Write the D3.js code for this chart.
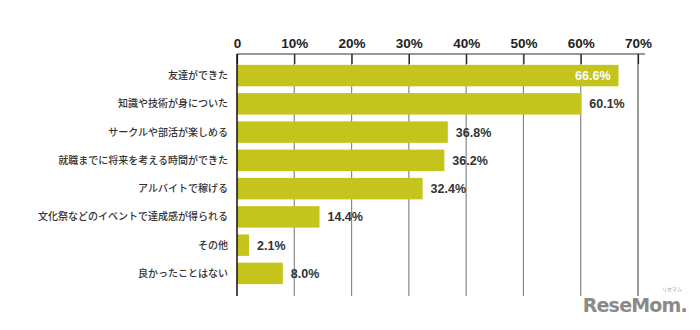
<!DOCTYPE html>
<html>
<head>
<meta charset="utf-8">
<script src="https://cdn.jsdelivr.net/npm/d3@7"></script>
<style>
  body { margin: 0; background: #fff; }
  svg { display: block; }
</style>
</head>
<body>
<div id="chart"></div>
<script>
  const categories = [
    '友達ができた',
    '知識や技術が身についた',
    'サークルや部活が楽しめる',
    '就職までに将来を考える時間ができた',
    'アルバイトで稼げる',
    '文化祭などのイベントで達成感が得られる',
    'その他',
    '良かったことはない'
  ];
  const values = [66.6, 60.1, 36.8, 36.2, 32.4, 14.4, 2.1, 8.0];
  const tickValues = [0, 10, 20, 30, 40, 50, 60, 70];

  const width = 700;
  const height = 330;
  const margin = { top: 54, left: 237, right: 62, bottom: 34 };

  const svg = d3.select('#chart').append('svg')
    .attr('width', width)
    .attr('height', height);

  const x = d3.scaleLinear().domain([0, 70]).range([margin.left, 638]);
  const y = d3.scaleBand().domain(categories).range([62, 287]).paddingInner(0.24).paddingOuter(0.1);

  // grid lines
  svg.append('g').selectAll('line')
    .data(tickValues.filter(d => d > 0))
    .enter().append('line')
    .attr('x1', d => x(d)).attr('x2', d => x(d))
    .attr('y1', margin.top).attr('y2', 296)
    .attr('stroke', d => d === 70 ? '#555' : '#888')
    .attr('stroke-width', 1.2);

  // bars
  svg.append('g').selectAll('rect')
    .data(values)
    .enter().append('rect')
    .attr('x', x(0))
    .attr('y', (d, i) => y(categories[i]))
    .attr('width', d => x(d) - x(0))
    .attr('height', y.bandwidth())
    .attr('fill', '#c4c41c');

  // axis
  const axis = svg.append('g')
    .attr('transform', `translate(0, ${margin.top})`)
    .call(d3.axisTop(x).tickValues(tickValues).tickSize(-10).tickFormat(d => d === 0 ? '0' : d + '%'));
  axis.select('.domain').remove();
  axis.selectAll('.tick line').attr('stroke', '#222').attr('stroke-width', 1.2);
  axis.selectAll('.tick text')
    .attr('y', -6)
    .attr('fill', '#222')
    .style('font-family', '"Liberation Sans", Arial, sans-serif')
    .style('font-weight', 'bold')
    .style('font-size', '13.5px');
  svg.append('line')
    .attr('x1', x(0)).attr('x2', 645)
    .attr('y1', margin.top).attr('y2', margin.top)
    .attr('stroke', '#333').attr('stroke-width', 1.2);

  // zero line
  svg.append('line')
    .attr('x1', x(0)).attr('x2', x(0))
    .attr('y1', margin.top).attr('y2', 296)
    .attr('stroke', '#111').attr('stroke-width', 1.5);

  // category labels
  svg.append('g').selectAll('text')
    .data(categories)
    .enter().append('text')
    .attr('x', 228)
    .attr('y', d => y(d) + y.bandwidth() / 2)
    .attr('dy', '0.35em')
    .attr('text-anchor', 'end')
    .attr('fill', '#333')
    .style('font-family', '"Noto Sans CJK JP", sans-serif')
    .style('font-size', '10px')
    .style('font-weight', 500)
    .text(d => d);

  // value labels
  svg.append('g').selectAll('text')
    .data(values)
    .enter().append('text')
    .attr('x', (d, i) => i === 0 ? x(d) - 8 : x(d) + 8)
    .attr('y', (d, i) => y(categories[i]) + y.bandwidth() / 2)
    .attr('dy', '0.36em')
    .attr('text-anchor', (d, i) => i === 0 ? 'end' : 'start')
    .attr('fill', (d, i) => i === 0 ? '#fff' : '#333')
    .style('font-family', '"Liberation Sans", Arial, sans-serif')
    .style('font-weight', 'bold')
    .style('font-size', '12.5px')
    .text(d => d.toFixed(1) + '%');

  // watermark
  svg.append('text')
    .attr('x', 687).attr('y', 312)
    .attr('text-anchor', 'end')
    .attr('fill', '#8a8a8a')
    .style('font-family', '"DejaVu Sans", sans-serif')
    .style('font-weight', 'bold')
    .style('font-size', '19px')
    .style('letter-spacing', '-0.8px')
    .text('ReseMom.');
  svg.append('text')
    .attr('x', 682).attr('y', 291)
    .attr('text-anchor', 'end')
    .attr('fill', '#999')
    .style('font-family', '"Noto Sans CJK JP", sans-serif')
    .style('font-size', '5px')
    .text('リセマム');
</script>
</body>
</html>
